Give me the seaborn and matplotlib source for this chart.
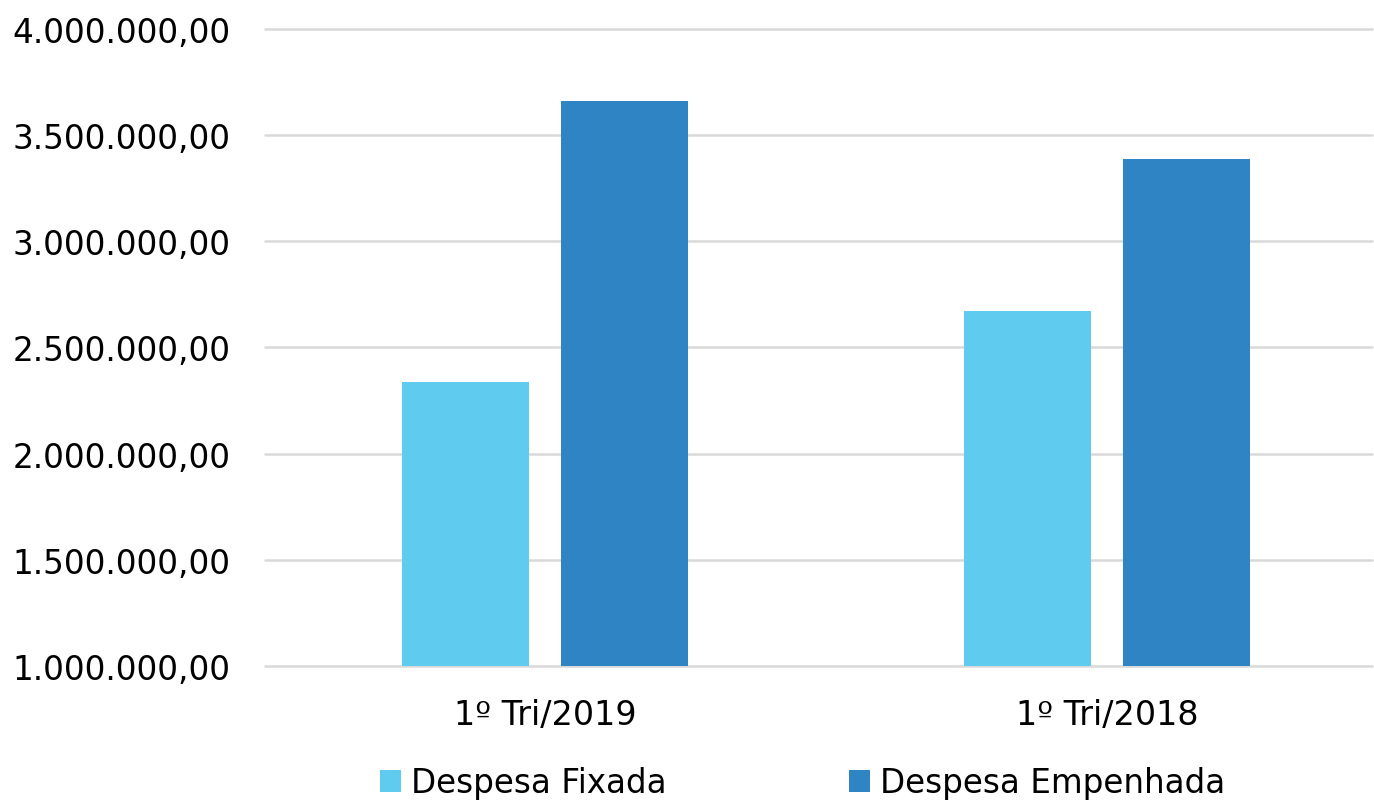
import pandas as pd
import seaborn as sns
import matplotlib.pyplot as plt
from matplotlib.ticker import FuncFormatter, MultipleLocator

# data
periodos = ["1º Tri/2019", "1º Tri/2018"]
series = ["Despesa Fixada", "Despesa Empenhada"]
fixada = [2338000, 2672000]
empenhada = [3661000, 3388000]
cores = ["#5ECBEF", "#2F84C3"]

df = pd.DataFrame({
    "Periodo": periodos * 2,
    "Serie": [series[0]] * 2 + [series[1]] * 2,
    "Valor": fixada + empenhada,
})

sns.set_theme(style="white")
plt.rcParams["font.family"] = ["DejaVu Sans"]
plt.rcParams["text.color"] = "black"

fig = plt.figure(figsize=(13.74, 8.04), dpi=100)
ax = fig.add_axes([0.193, 0.1704, 0.8055, 0.7923])

sns.barplot(df, x="Periodo", y="Valor", hue="Serie", palette=cores,
            saturation=1, width=0.5676, gap=0.204, linewidth=0,
            errorbar=None, ax=ax, zorder=3)

ax.set_ylim(1000000, 4000000)
ax.set_xlim(-0.498, 1.4715)
ax.yaxis.set_major_locator(MultipleLocator(500000))

# brazilian number format
def fmt(v, pos):
    s = f"{v:,.2f}"
    return s.replace(",", "X").replace(".", ",").replace("X", ".")

ax.yaxis.set_major_formatter(FuncFormatter(fmt))
ax.grid(axis="y", color="#D9D9D9", linewidth=1.8, zorder=0)
ax.set_axisbelow(True)
for gl in ax.get_ygridlines():
    gl.set_clip_on(False)
for s in ax.spines.values():
    s.set_visible(False)
ax.tick_params(axis="y", length=0, pad=25, labelsize=23.5, labelcolor="black")
ax.tick_params(axis="x", length=0, pad=23, labelsize=24, labelcolor="black")
ax.set_xlabel("")
ax.set_ylabel("")

ax.legend_.remove()
handles, labels = ax.get_legend_handles_labels()
leg = fig.legend(handles, labels, loc="lower center", bbox_to_anchor=(0.584, -0.032),
                 ncol=2, frameon=False, fontsize=23.5, handlelength=0.65,
                 handleheight=0.65, handletextpad=0.3, columnspacing=5.6)
for t in leg.get_texts():
    t.set_color("black")

fig.savefig("out.png", dpi=100)
